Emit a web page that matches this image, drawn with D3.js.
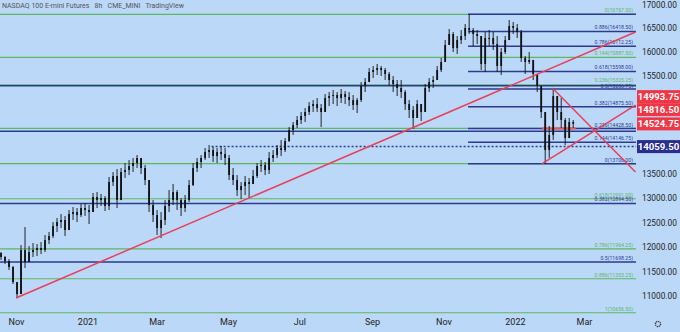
<!DOCTYPE html>
<html>
<head>
<meta charset="utf-8">
<script src="https://cdn.jsdelivr.net/npm/d3@7"></script>
<style>
  body { margin: 0; background: #bcd8f8; }
  svg { display: block; font-family: Roboto, "Noto Sans", sans-serif; }
</style>
</head>
<body>
<div id="chart"></div>
<script>
const F_WIDTH = 680;
const F_HEIGHT = 332;
const PLOT_RIGHT = 636;

// 8h futures, sampled roughly every 82 hours from 19 Oct 2020
const START_DATE = new Date(2020, 9, 19, 5);
const STEP_HOURS = 82;

const highs = [
  11900, 11818, 11757, 11614, 11286, 12044, 12412, 12023, 12085, 12064,
  12105, 12249, 12310, 12515, 12597, 12679, 12638, 12761, 12822, 12802,
  12884, 12904, 12863, 13109, 13129, 13088, 13047, 13436, 13539, 13600,
  13621, 13723, 13785, 13826, 13887, 13826, 13682, 13375, 12965, 12761,
  12720, 12965, 13170, 13293, 13170, 13006, 13068, 13375, 13723, 13826,
  13887, 14030, 14092, 14051, 14030, 14071, 14030, 13887, 13621, 13477,
  13334, 13457, 13416, 13580, 13723, 13785, 13744, 13948, 13989, 14092,
  14194, 14235, 14460, 14563, 14686, 14768, 14849, 14972, 15013, 15054,
  14931, 15136, 15177, 15218, 15177, 15239, 15198, 15177, 15116, 15054,
  15382, 15464, 15669, 15710, 15751, 15710, 15669, 15587, 15505, 15423,
  15423, 15218, 15013, 14890, 15013, 14931, 15341, 15464, 15505, 15710,
  15874, 16242, 16468, 16406, 16324, 16447, 16570, 16767.5, 16488, 16447,
  16242, 16406, 16447, 16406, 16324, 16078, 16324, 16652, 16611, 16570,
  16447, 15915, 15996, 15792, 15546, 15300, 14645, 14481, 15259, 15095,
  15054, 14645, 14645, 14604
];
const lows = [
  11737, 11655, 11532, 11245, 10958, 11040, 11573, 11696, 11798, 11818,
  11859, 11900, 12064, 12187, 12310, 12392, 12228, 12392, 12556, 12515,
  12617, 12638, 12474, 12761, 12802, 12843, 12740, 12761, 13252, 12802,
  12965, 13416, 13477, 13539, 13621, 13498, 13272, 12720, 12515, 12249,
  12187, 12454, 12720, 12863, 12761, 12638, 12720, 12924, 13252, 13539,
  13621, 13785, 13826, 13744, 13723, 13785, 13682, 13375, 13272, 13047,
  12986, 13068, 13006, 13293, 13416, 13539, 13477, 13498, 13744, 13826,
  13866, 13948, 14153, 14297, 14440, 14522, 14563, 14706, 14768, 14768,
  14460, 14768, 14890, 14931, 14890, 14952, 14931, 14890, 14809, 14747,
  14972, 15177, 15382, 15464, 15525, 15505, 15423, 15300, 15177, 15095,
  15054, 14809, 14645, 14420, 14706, 14583, 14890, 15177, 15259, 15423,
  15587, 15792, 16140, 15996, 15955, 16160, 16242, 16365, 16119, 16160,
  15628, 15587, 16119, 16037, 15587, 15525, 15955, 16242, 16365, 16283,
  15792, 15546, 15751, 15423, 15177, 14645, 13706, 13826, 14194, 14604,
  14440, 14092, 14358, 14440
];
const closes = [
  11798, 11716, 11594, 11286, 11040, 11941, 11696, 11900, 11941, 11982,
  11941, 12146, 12228, 12433, 12515, 12556, 12351, 12679, 12720, 12658,
  12802, 12761, 12720, 13027, 12965, 13006, 12843, 13334, 13457, 12965,
  13539, 13580, 13662, 13723, 13826, 13621, 13375, 12863, 12658, 12392,
  12556, 12843, 12965, 13129, 12965, 12802, 12965, 13272, 13621, 13744,
  13826, 13948, 13989, 13866, 13948, 13907, 13826, 13477, 13375, 13170,
  13252, 13334, 13293, 13457, 13662, 13682, 13580, 13826, 13887, 14030,
  13989, 14174, 14399, 14501, 14604, 14686, 14768, 14890, 14931, 14849,
  14768, 15054, 15095, 15116, 15054, 15136, 15075, 15013, 14911, 15013,
  15300, 15382, 15587, 15628, 15669, 15628, 15546, 15423, 15341, 15259,
  15177, 14931, 14809, 14645, 14931, 14768, 15259, 15382, 15423, 15628,
  15792, 16140, 16365, 16078, 16242, 16324, 16488, 16447, 16365, 16324,
  15751, 16283, 16283, 16160, 15710, 15996, 16242, 16529, 16488, 16406,
  15874, 15792, 15833, 15546, 15300, 14768, 13989, 14297, 15095, 14768,
  14604, 14235, 14563, 14524.75
];
const FIRST_OPEN = 11880;

// long fibonacci (green), full width
const greenLevels = ["0", "0.144", "0.236", "0.382", "0.5", "0.618", "0.786", "0.886", "1"];
const greenPrices = [16767.50, 15887.50, 15325.25, 14433.00, 13712.00, 12991.00, 11964.25, 11353.25, 10656.50];
const greenShowLabel = [true, true, true, false, false, true, true, true, true];

// long fibonacci (navy), full width
const navyLevels = ["0.144", "0.236", "0.382", "0.5"];
const navyPrices = [15307.50, 14374.50, 12894.50, 11698.25];
const navyShowLabel = [false, false, true, true];

// short fibonacci (navy) from the November high
const shortLevels = ["1", "0.886", "0.786", "0.618", "0.5", "0.382", "0.236", "0.144", "0"];
const shortPrices = [16767.50, 16418.50, 16112.25, 15598.00, 15236.75, 14875.50, 14428.50, 14146.75, 13706.00];
const SHORT_START = new Date(2021, 10, 22);

// trend lines
const trendStartDates = [new Date(2020, 10, 1), new Date(2022, 1, 2), new Date(2022, 0, 24)];
const trendStartPrices = [10958, 15259, 13706];
const trendEndDates = [new Date(2022, 3, 14), new Date(2022, 3, 14), new Date(2022, 3, 14)];
const trendEndPrices = [16406, 13539, 14911];

// dotted level and highlighted zone
const DOTTED_PRICE = 14059.50;
const DOTTED_START = new Date(2021, 3, 17);
const ZONE_PRICE = 14428.50;
const ZONE_DATES = [new Date(2022, 0, 24), new Date(2022, 1, 22)];

// price tags on the right scale
const tagPrices = [14993.75, 14816.50, 14524.75, 14059.50];
const tagColors = ["#f23645", "#f23645", "#f23645", "#2a2e8c"];

// axes (15000, 14500 and 14000 sit under the price tags)
const yTicks = [17000, 16500, 16000, 15500, 13500, 13000, 12500, 12000, 11500, 11000];
const xTickDates = [new Date(2020, 10, 1), new Date(2021, 0, 1), new Date(2021, 2, 1), new Date(2021, 4, 1),
                    new Date(2021, 6, 1), new Date(2021, 8, 1), new Date(2021, 10, 1), new Date(2022, 0, 1), new Date(2022, 2, 1)];
const xTickLabels = ["Nov", "2021", "Mar", "May", "Jul", "Sep", "Nov", "2022", "Mar"];

const GREEN = "#5cb662";
const NAVY = "#2c3a8f";
const RED = "#e8405a";

const SVG = d3.select("#chart")
  .append("svg")
    .attr("width", F_WIDTH)
    .attr("height", F_HEIGHT);

SVG.append("rect")
    .attr("width", F_WIDTH)
    .attr("height", F_HEIGHT)
    .attr("fill", "#bcd8f8");

const X_SCALE = d3.scaleTime()
  .domain([new Date(2020, 10, 1), new Date(2022, 2, 1)])
  .range([16, 584]);

const Y_SCALE = d3.scaleLinear()
  .domain([11000, 17000])
  .range([296, 3]);

// title
SVG.append("text")
    .attr("x", 2)
    .attr("y", 7.5)
    .attr("font-size", 7)
    .attr("fill", "#555")
    .text("NASDAQ 100 E-mini Futures \u00a0 8h \u00a0 CME_MINI \u00a0 TradingView");

// green fib lines
SVG.append("g").selectAll("line")
  .data(greenPrices)
  .enter()
  .append("line")
    .attr("x1", 0)
    .attr("x2", PLOT_RIGHT)
    .attr("y1", (d) => Y_SCALE(d))
    .attr("y2", (d) => Y_SCALE(d))
    .attr("stroke", GREEN)
    .attr("stroke-width", 1.2);

// navy long fib lines
SVG.append("g").selectAll("line")
  .data(navyPrices)
  .enter()
  .append("line")
    .attr("x1", 0)
    .attr("x2", PLOT_RIGHT)
    .attr("y1", (d) => Y_SCALE(d))
    .attr("y2", (d) => Y_SCALE(d))
    .attr("stroke", NAVY)
    .attr("stroke-width", 1.5);

// navy short fib lines
SVG.append("g").selectAll("line")
  .data(shortPrices)
  .enter()
  .append("line")
    .attr("x1", X_SCALE(SHORT_START))
    .attr("x2", PLOT_RIGHT)
    .attr("y1", (d) => Y_SCALE(d))
    .attr("y2", (d) => Y_SCALE(d))
    .attr("stroke", NAVY)
    .attr("stroke-width", 1.5);

// fib labels
const fmt = d3.format(".2f");
const LABELS = SVG.append("g")
  .attr("font-size", 5.2)
  .attr("text-anchor", "end");

greenPrices.forEach((p, i) => {
  if (!greenShowLabel[i]) return;
  LABELS.append("text")
    .attr("x", PLOT_RIGHT - 3)
    .attr("y", Y_SCALE(p) - (i === 2 ? 3.2 : 2))
    .attr("fill", GREEN)
    .text(greenLevels[i] + "(" + fmt(p) + ")");
});
navyPrices.forEach((p, i) => {
  if (!navyShowLabel[i]) return;
  LABELS.append("text")
    .attr("x", PLOT_RIGHT - 3)
    .attr("y", Y_SCALE(p) - 2)
    .attr("fill", NAVY)
    .text(navyLevels[i] + "(" + fmt(p) + ")");
});
shortPrices.forEach((p, i) => {
  if (i === 0) return;
  LABELS.append("text")
    .attr("x", PLOT_RIGHT - 3)
    .attr("y", Y_SCALE(p) - (i === 4 ? 1.2 : 2))
    .attr("fill", NAVY)
    .text(shortLevels[i] + "(" + fmt(p) + ")");
});

// dotted level
SVG.append("line")
    .attr("x1", X_SCALE(DOTTED_START))
    .attr("x2", PLOT_RIGHT)
    .attr("y1", Y_SCALE(DOTTED_PRICE))
    .attr("y2", Y_SCALE(DOTTED_PRICE))
    .attr("stroke", NAVY)
    .attr("stroke-width", 1.5)
    .attr("stroke-dasharray", "2,2");

// highlighted zone
SVG.append("line")
    .attr("x1", X_SCALE(ZONE_DATES[0]))
    .attr("x2", X_SCALE(ZONE_DATES[1]))
    .attr("y1", Y_SCALE(ZONE_PRICE))
    .attr("y2", Y_SCALE(ZONE_PRICE))
    .attr("stroke", "#e07070")
    .attr("stroke-opacity", 0.85)
    .attr("stroke-width", 3);

// candles
const bars = closes.map((c, i) => ({
  date: d3.timeHour.offset(START_DATE, i * STEP_HOURS),
  open: i === 0 ? FIRST_OPEN : closes[i - 1],
  high: highs[i],
  low: lows[i],
  close: c
}));

const CANDLES = SVG.append("g");
CANDLES.selectAll("line")
  .data(bars)
  .enter()
  .append("line")
    .attr("x1", (d) => X_SCALE(d.date))
    .attr("x2", (d) => X_SCALE(d.date))
    .attr("y1", (d) => Y_SCALE(Math.max(d.high, d.open, d.close)))
    .attr("y2", (d) => Y_SCALE(Math.min(d.low, d.open, d.close)))
    .attr("stroke", "#111")
    .attr("stroke-width", 0.9);
CANDLES.selectAll("rect")
  .data(bars)
  .enter()
  .append("rect")
    .attr("x", (d) => X_SCALE(d.date) - 0.9)
    .attr("width", 1.8)
    .attr("y", (d) => Y_SCALE(Math.max(d.open, d.close)))
    .attr("height", (d) => Math.max(1, Math.abs(Y_SCALE(d.open) - Y_SCALE(d.close))))
    .attr("fill", "#111");

// trend lines
SVG.append("g").selectAll("line")
  .data(trendStartPrices)
  .enter()
  .append("line")
    .attr("x1", (d, i) => X_SCALE(trendStartDates[i]))
    .attr("y1", (d) => Y_SCALE(d))
    .attr("x2", (d, i) => X_SCALE(trendEndDates[i]))
    .attr("y2", (d, i) => Y_SCALE(trendEndPrices[i]))
    .attr("stroke", RED)
    .attr("stroke-width", 1.5);

// price scale
const Y_AXIS = SVG.append("g")
  .attr("transform", "translate(" + 640 + ",0)")
  .call(d3.axisRight(Y_SCALE).tickValues(yTicks).tickSize(0).tickPadding(2).tickFormat(fmt));
Y_AXIS.select(".domain").remove();
Y_AXIS.selectAll("text")
  .attr("font-size", 8.3)
  .attr("font-family", "Roboto, sans-serif")
  .attr("fill", "#222")
  .attr("dy", (d) => d === 17000 ? "0.5em" : "0.32em");

// time scale
const X_AXIS = SVG.append("g")
  .attr("transform", "translate(0," + 317 + ")")
  .call(d3.axisBottom(X_SCALE).tickValues(xTickDates).tickSize(0).tickPadding(2)
    .tickFormat((d, i) => xTickLabels[i]));
X_AXIS.select(".domain").remove();
X_AXIS.selectAll("text")
  .attr("font-size", 9)
  .attr("font-family", "Roboto, sans-serif")
  .attr("fill", "#222");

// price tags, pushed apart when they overlap
const TAG_H = 13;
const tagYs = tagPrices.map((p) => Y_SCALE(p));
for (let i = tagYs.length - 2; i >= 0; i--) {
  if (tagYs[i] + TAG_H / 2 > tagYs[i + 1] - TAG_H / 2) {
    tagYs[i] = tagYs[i + 1] - TAG_H;
  }
}
const TAGS = SVG.append("g");
tagPrices.forEach((p, i) => {
  TAGS.append("rect")
    .attr("x", 637)
    .attr("y", tagYs[i] - TAG_H / 2)
    .attr("width", 43)
    .attr("height", TAG_H)
    .attr("fill", tagColors[i]);
  TAGS.append("text")
    .attr("x", 658.5)
    .attr("y", tagYs[i] + 3.5)
    .attr("text-anchor", "middle")
    .attr("font-size", 9.6)
    .attr("font-weight", "bold")
    .attr("fill", "#fff")
    .text(fmt(p));
});

// settings gear
SVG.append("circle")
    .attr("cx", 658)
    .attr("cy", 324)
    .attr("r", 2.6)
    .attr("fill", "none")
    .attr("stroke", "#444")
    .attr("stroke-width", 1.4)
    .attr("stroke-dasharray", "1.3,0.7");
</script>
</body>
</html>
